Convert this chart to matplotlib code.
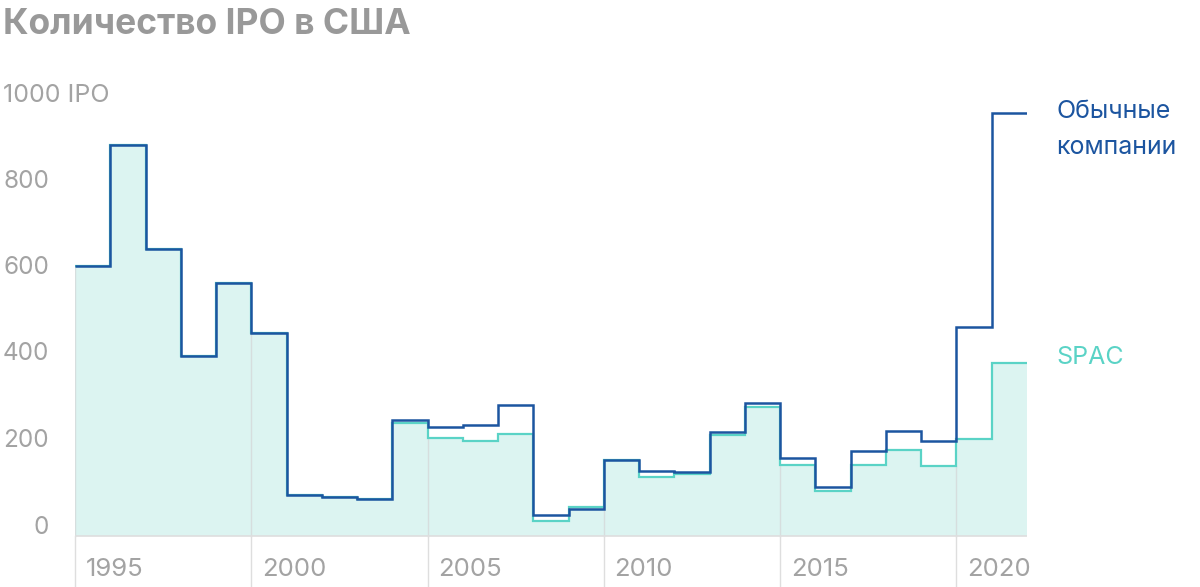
import matplotlib
matplotlib.use("Agg")
import matplotlib.pyplot as plt
import numpy as np

plt.rcParams['font.family'] = ['Inter', 'DejaVu Sans']

years = list(range(1995, 2022))
regular = [624, 904, 664, 416, 585, 469, 95, 90, 86, 268, 252, 257, 303, 49, 62,
           176, 150, 148, 240, 307, 180, 113, 196, 243, 220, 483, 978]
spac = [624, 904, 664, 416, 585, 469, 95, 90, 86, 261, 227, 220, 236, 35, 67,
        176, 137, 143, 233, 298, 164, 104, 164, 199, 162, 224, 400]
y_ticks = [0, 200, 400, 600, 800]
x_labels = [1995, 2000, 2005, 2010, 2015, 2020]

BLUE = '#1c55a0'
TEAL = '#5ad3c6'
FILL = '#dcf4f1'
GRAY = '#a3a3a3'
GRID = '#d6dede'

W, H = 1200, 587
fig = plt.figure(figsize=(W / 100, H / 100), dpi=100)
ax = fig.add_axes([75 / W, 0, (1027 - 75) / W, 1])
edges = np.arange(years[0], years[-1] + 2)
ax.set_xlim(edges[0], edges[-1])
y0 = 536
k = 0.4325
ax.set_ylim(-(H - y0) / k, y0 / k)
ax.axis('off')

ax.stairs(spac, edges, fill=True, color=FILL, baseline=0, zorder=1)
# vertical gridlines
for yr in x_labels:
    i = yr - years[0]
    top = min(spac[i], spac[i - 1]) if i > 0 else spac[i]
    ax.plot([yr, yr], [0, top], color=GRID, lw=1.0, zorder=2)
    ax.plot([yr, yr], [0, -(H - y0) / k], color='#dedede', lw=1.0, zorder=2, clip_on=False)
    ax.text(yr + 0.3, -77, str(yr), color=GRAY, fontsize=18.5, ha='left', va='center')
ax.plot([edges[0], edges[-1]], [0, 0], color='#dedede', lw=1.2, zorder=2)

ax.stairs(spac, edges, baseline=None, color=TEAL, lw=1.6, zorder=3)
ax.stairs(regular, edges, baseline=None, color=BLUE, lw=1.8, zorder=4)

for v in y_ticks:
    fig.text(49 / W, 1 - (y0 - v * k - 9) / H, str(v), color=GRAY, fontsize=17.5,
             ha='right', va='center')
fig.text(3 / W, 1 - 96 / H, '1000 IPO', color=GRAY, fontsize=18, ha='left', va='center')

fig.text(3 / W, 1 - 24 / H, 'Количество IPO в США', color='#999999', fontsize=25.5,
         fontweight='bold', ha='left', va='center')
fig.text(1056 / W, 1 - 112 / H, 'Обычные', color=BLUE, fontsize=18, ha='left', va='center')
fig.text(1056 / W, 1 - 147 / H, 'компании', color=BLUE, fontsize=18, ha='left', va='center')
fig.text(1056 / W, 1 - 357 / H, 'SPAC', color=TEAL, fontsize=18, ha='left', va='center')

fig.savefig('out.png', dpi=100)
